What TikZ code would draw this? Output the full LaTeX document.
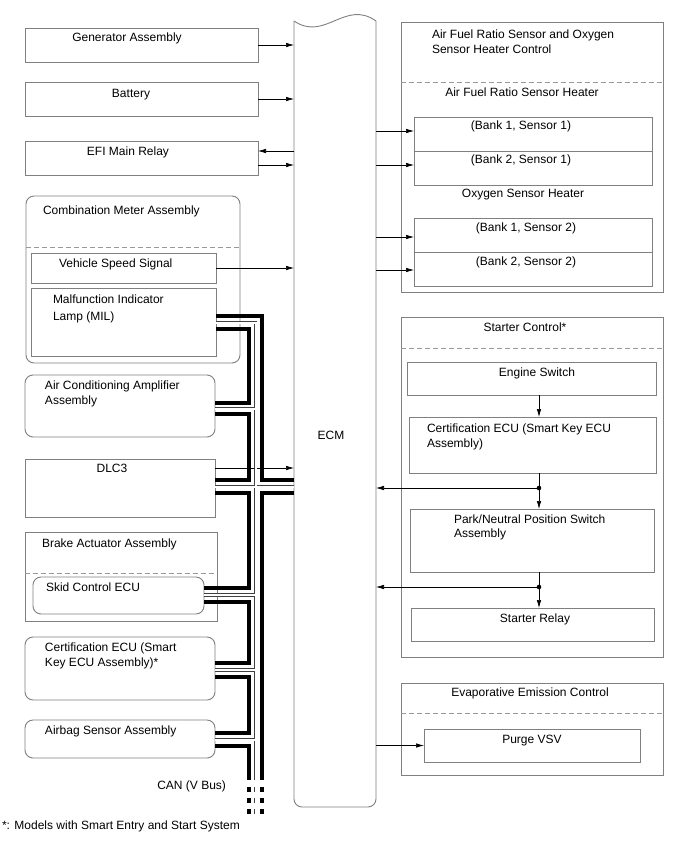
\documentclass[tikz,border=0pt]{standalone}
\usepackage{fontspec}
\setmainfont{Liberation Sans}
\usetikzlibrary{arrows.meta,calc}
\definecolor{boxgray}{HTML}{808080}
\definecolor{dashgray}{HTML}{9A9A9A}
\newcommand\mybox[6]{\node[#2, minimum width={#5-#3}, minimum height={#6-#4}, anchor=north west] (#1) at (#3,#4) {};}
\begin{document}
\begin{tikzpicture}[x=1pt,y=-1pt,
  font=\fontsize{12}{14}\selectfont,
  plain/.style={draw=boxgray, line width=0.9pt, inner sep=0pt, outer sep=0pt},
  round/.style={plain, rounded corners=8pt},
  sepline/.style={draw=dashgray, line width=0.9pt, dash pattern=on 5pt off 3pt},
  arr/.style={draw=black, line width=0.7pt, -{Latex[length=8pt,width=4.5pt]}},
  txt/.style={inner sep=0pt, outer sep=0pt},
  busthick/.style={draw=black, line width=3.3pt, line join=miter, line cap=butt},
  busouter/.style={draw=black!75, line width=3.8pt, line join=miter, line cap=butt},
  businner/.style={draw=white, line width=2pt, line join=miter, line cap=butt},
  dashbus/.style={dash pattern=on 4.5pt off 6.5pt}
]
\useasboundingbox[fill=white] (0,0) rectangle (688,852);

% ---------- ECM ----------
\node[inner sep=0pt, outer sep=0pt, minimum width=82, minimum height=786, anchor=north west] (ecm) at (294,21) {};
\draw[draw=boxgray, line width=0.9pt] (ecm.north west) .. controls (325,42) and (345,-1) .. (ecm.north east);
\draw[draw=boxgray, line width=0.9pt, rounded corners=8pt] (ecm.north west) -- (ecm.south west) -- (ecm.south east) -- (ecm.north east);
\node[txt, anchor=base] (tecm) at (331,439) {ECM};

% ---------- left boxes ----------
\mybox{gen}{plain}{25}{28}{258}{62}
\mybox{bat}{plain}{25}{82}{258}{116}
\mybox{efi}{plain}{25}{141}{258}{175}
\mybox{comb}{round}{26}{196}{240}{363}
\mybox{vss}{plain}{31}{253}{216}{283}
\mybox{mil}{plain}{31}{288}{216}{356}
\mybox{ac}{round}{25}{375}{215}{437}
\mybox{dlc}{plain}{25}{459}{215}{517}
\mybox{brake}{plain}{25}{532}{217}{621}
\mybox{skid}{round}{33}{577}{204}{614}
\mybox{certl}{round}{25}{637}{215}{700}
\mybox{airbag}{round}{25}{720}{215}{758}
\draw[sepline] (comb.west |- 0,247) -- (comb.east |- 0,247);
\draw[sepline] (brake.west |- 0,573) -- (brake.east |- 0,573);

\node[txt, anchor=base] (tgen) at (127,41) {Generator Assembly};
\node[txt, anchor=base] (tbat) at (131,97) {Battery};
\node[txt, anchor=base] (tefi) at (128,155) {EFI Main Relay};
\node[txt, anchor=base west] (tcomb) at (43,214) {Combination Meter Assembly};
\node[txt, anchor=base west] (tvss) at (59,267) {Vehicle Speed Signal};
\node[txt, anchor=base west] (tmila) at (53,303) {Malfunction Indicator};
\node[txt, anchor=base west] (tmilb) at (53,320) {Lamp (MIL)};
\node[txt, anchor=base west] (taca) at (45,389) {Air Conditioning Amplifier};
\node[txt, anchor=base west] (tacb) at (45,404) {Assembly};
\node[txt, anchor=base] (tdlc) at (112,472) {DLC3};
\node[txt, anchor=base west] (tbrake) at (42,547) {Brake Actuator Assembly};
\node[txt, anchor=base west] (tskid) at (46,591) {Skid Control ECU};
\node[txt, anchor=base west] (tcla) at (45,651) {Certification ECU (Smart};
\node[txt, anchor=base west] (tclb) at (45,666) {Key ECU Assembly)*};
\node[txt, anchor=base west] (tair) at (45,734) {Airbag Sensor Assembly};
\node[txt, anchor=base east] (tcan) at (226,789) {CAN (V Bus)};
\node[txt, anchor=base west] (tfoot) at (2,829) {*: Models with Smart Entry and Start System};

% ---------- left arrows ----------
\draw[arr] (gen.east) -- (gen.east -| ecm.west);
\draw[arr] (bat.east) -- (bat.east -| ecm.west);
\draw[arr] (ecm.west |- 0,151) -- (efi.east |- 0,151);
\draw[arr] (efi.east |- 0,165) -- (ecm.west |- 0,165);
\draw[arr] (vss.east) -- (vss.east -| ecm.west);
\draw[arr] (dlc.east |- 0,468) -- (ecm.west |- 0,468);

% ---------- CAN bus ----------
% double thin line (middle)
\draw[busouter] (mil.east |- 0,322.5) -- (255.5,322.5) -- (255.5,780);
\draw[busouter] (ac.east |- 0,408.5) -- (255.5,408.5);
\draw[busouter] (dlc.east |- 0,486.5) -- (ecm.west |- 0,486.5);
\draw[busouter] (skid.east |- 0,595) -- (255.5,595);
\draw[busouter] (certl.east |- 0,670) -- (255.5,670);
\draw[busouter] (airbag.east |- 0,739.5) -- (255.5,739.5);
\draw[busouter, dashbus] (255.5,787) -- (255.5,814);
\draw[businner] (mil.east |- 0,322.5) -- (255.5,322.5) -- (255.5,780);
\draw[businner] (ac.east |- 0,408.5) -- (255.5,408.5);
\draw[businner] (dlc.east |- 0,486.5) -- (ecm.west |- 0,486.5);
\draw[businner] (skid.east |- 0,595) -- (255.5,595);
\draw[businner] (certl.east |- 0,670) -- (255.5,670);
\draw[businner] (airbag.east |- 0,739.5) -- (255.5,739.5);
\draw[businner, dashbus] (255.5,787) -- (255.5,814);
% outer thick line
\draw[busthick] (mil.east |- 0,316) -- (262,316) -- (262,480) -- (ecm.west |- 0,480);
\draw[busthick] (ecm.west |- 0,493) -- (262,493) -- (262,780);
\draw[busthick, dashbus] (262,787) -- (262,814);
% inner thick line (daisy chain)
\draw[busthick] (mil.east |- 0,329) -- (249,329) -- (249,403) -- (ac.east |- 0,403);
\draw[busthick] (ac.east |- 0,414) -- (249,414) -- (249,480) -- (dlc.east |- 0,480);
\draw[busthick] (dlc.east |- 0,493) -- (249,493) -- (249,588) -- (skid.east |- 0,588);
\draw[busthick] (skid.east |- 0,602) -- (249,602) -- (249,663) -- (certl.east |- 0,663);
\draw[busthick] (certl.east |- 0,677) -- (249,677) -- (249,733) -- (airbag.east |- 0,733);
\draw[busthick] (airbag.east |- 0,746) -- (249,746) -- (249,780);
\draw[busthick, dashbus] (249,787) -- (249,814);

% ---------- right: air fuel ratio ----------
\mybox{afr}{plain}{401}{22}{663}{292}
\draw[sepline] (afr.west |- 0,82) -- (afr.east |- 0,82);
\mybox{b11}{plain}{414}{117}{652}{151}
\mybox{b21}{plain}{414}{151}{652}{185}
\mybox{b12}{plain}{414}{218}{652}{252}
\mybox{b22}{plain}{414}{252}{652}{286}
\node[txt, anchor=base west] (tafra) at (432,38) {Air Fuel Ratio Sensor and Oxygen};
\node[txt, anchor=base west] (tafrb) at (432,53) {Sensor Heater Control};
\node[txt, anchor=base] (tafrh) at (522,96) {Air Fuel Ratio Sensor Heater};
\node[txt, anchor=base] (tb11) at (521,129) {(Bank 1, Sensor 1)};
\node[txt, anchor=base] (tb21) at (521,163) {(Bank 2, Sensor 1)};
\node[txt, anchor=base] (to2) at (523,197) {Oxygen Sensor Heater};
\node[txt, anchor=base] (tb12) at (526,231) {(Bank 1, Sensor 2)};
\node[txt, anchor=base] (tb22) at (526,265) {(Bank 2, Sensor 2)};
\draw[arr] (ecm.east |- 0,131) -- (b11.west |- 0,131);
\draw[arr] (ecm.east |- 0,165) -- (b21.west |- 0,165);
\draw[arr] (ecm.east |- 0,237) -- (b12.west |- 0,237);
\draw[arr] (ecm.east |- 0,270) -- (b22.west |- 0,270);

% ---------- right: starter control ----------
\mybox{starter}{plain}{401}{317}{663}{657}
\draw[sepline] (starter.west |- 0,348) -- (starter.east |- 0,348);
\mybox{eng}{plain}{407}{362}{656}{395}
\mybox{certr}{plain}{409}{417}{656}{473}
\mybox{pn}{plain}{410}{509}{654}{572}
\mybox{relay}{plain}{411}{608}{654}{641}
\node[txt, anchor=base] (tst) at (525,331) {Starter Control*};
\node[txt, anchor=base] (teng) at (537,376) {Engine Switch};
\node[txt, anchor=base west] (tcra) at (427,432) {Certification ECU (Smart Key ECU};
\node[txt, anchor=base west] (tcrb) at (427,447) {Assembly)};
\node[txt, anchor=base west] (tpna) at (454,523) {Park/Neutral Position Switch};
\node[txt, anchor=base west] (tpnb) at (454,537) {Assembly};
\node[txt, anchor=base] (trelay) at (535,622) {Starter Relay};
\coordinate (j1) at (539,488);
\coordinate (j2) at (539,587);
\draw[arr] (eng.south -| j1) -- (certr.north -| j1);
\draw[arr] (certr.south -| j1) -- (pn.north -| j1);
\draw[arr] (pn.south -| j1) -- (relay.north -| j1);
\draw[arr] (j1) -- (j1 -| ecm.east);
\draw[arr] (j2) -- (j2 -| ecm.east);
\fill (j1) circle (2.3);
\fill (j2) circle (2.3);

% ---------- right: evaporative emission ----------
\mybox{evap}{plain}{401}{683}{663}{775}
\draw[sepline] (evap.west |- 0,713) -- (evap.east |- 0,713);
\mybox{purge}{plain}{424}{729}{640}{762}
\node[txt, anchor=base] (tevap) at (530,696) {Evaporative Emission Control};
\node[txt, anchor=base] (tpurge) at (532,743) {Purge VSV};
\draw[arr] (ecm.east |- purge.west) -- (purge.west);
\end{tikzpicture}
\end{document}
